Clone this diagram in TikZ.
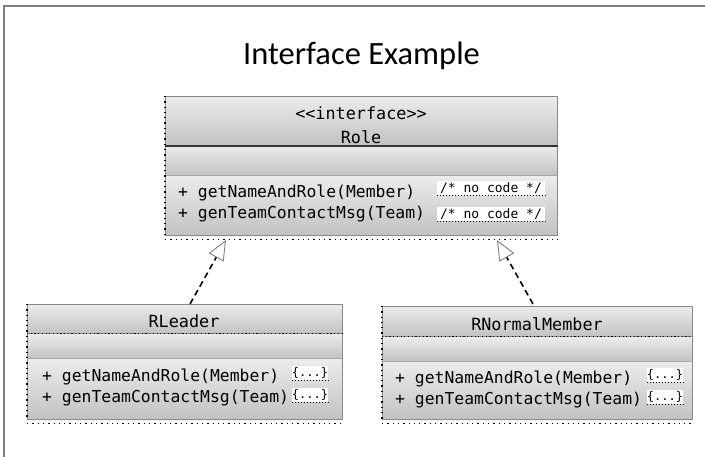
\documentclass[tikz,border=0pt]{standalone}
\usepackage{fontspec}
\setmainfont{Carlito}
\setmonofont{DejaVu Sans Mono}
\usetikzlibrary{arrows.meta,calc}
\definecolor{framegray}{HTML}{7F7F7F}
\definecolor{boxedge}{HTML}{8A8A8A}
\definecolor{topfill}{HTML}{ECECEC}
\definecolor{botfill}{HTML}{C2C2C2}
\begin{document}
\begin{tikzpicture}[x=1pt,y=-1pt,
  compart/.style={draw=boxedge, line width=0.8pt, top color=topfill, bottom color=botfill,
    inner sep=0pt, anchor=north west},
  mono/.style={font=\fontsize{16.4}{19}\selectfont\ttfamily, inner sep=0pt, anchor=west},
  headtext/.style={font=\fontsize{16.8}{19}\selectfont\ttfamily, inner sep=0pt},
  codebox/.style={fill=white, font=\fontsize{13}{15}\selectfont\ttfamily, inner sep=0pt,
    minimum height=14pt},
  smallcode/.style={codebox, font=\fontsize{12}{14}\selectfont\ttfamily},
  dotline/.style={line width=1.3pt, dash pattern=on 1.3pt off 4pt, black},
  codeline/.style={line width=1pt, dash pattern=on 1pt off 2pt, black},
  solidsep/.style={line width=1.8pt, draw=black!80},
  graysep/.style={line width=1.4pt, draw=gray!70},
  realize/.style={line width=1.6pt, black, dash pattern=on 6pt off 4pt,
    -{Triangle[open, length=20pt, width=17pt, line width=0.9pt, color=gray]}}
]
\useasboundingbox (0,0) rectangle (705,457);
% frame
\draw[framegray, line width=2pt] (4,457) -- (4,6) -- (705,6);
% title
\node[font=\fontsize{32.5}{38}\selectfont, anchor=base, inner sep=0pt] (title) at (361.5,65) {Interface Example};

% ---------- Role ----------
\node[compart, minimum width=392pt, minimum height=49pt] (rolehead) at (165,96) {};
\node[compart, minimum width=392pt, minimum height=30pt] (roleattr) at (165,145) {};
\node[compart, minimum width=392pt, minimum height=60pt] (rolemeth) at (165,175) {};
\draw[solidsep] (rolehead.south west) -- (rolehead.south east);
\draw[graysep] (roleattr.south west) -- (roleattr.south east);
\draw[dotline] (rolehead.north west) -- (rolemeth.south west);
\draw[dotline] ($(rolemeth.south west)+(0,4)$) -- ($(rolemeth.south east)+(0,4)$);
\node[headtext] (rolestereo) at (361,113) {<<interface>>};
\node[headtext] (rolename) at (361,137) {Role};
\node[mono] (rolem1) at (178,193) {+ getNameAndRole(Member)};
\node[mono] (rolem2) at (178,214) {+ genTeamContactMsg(Team)};
\node[codebox, minimum width=108pt] (rolec1) at (491,188) {/* no code */};
\node[codebox, minimum width=108pt] (rolec2) at (491,214) {/* no code */};
\draw[codeline] (rolec1.south west) -- (rolec1.south east);
\draw[codeline] (rolec2.south west) -- (rolec2.south east);

% ---------- RLeader ----------
\node[compart, minimum width=315pt, minimum height=29pt] (rlhead) at (27,304) {};
\node[compart, minimum width=315pt, minimum height=25pt] (rlattr) at (27,333) {};
\node[compart, minimum width=315pt, minimum height=61pt] (rlmeth) at (27,358) {};
\draw[dotline, line width=1.2pt, dash pattern=on 1.2pt off 2.5pt] (rlhead.south west) -- (rlhead.south east);
\draw[graysep] (rlattr.south west) -- (rlattr.south east);
\draw[dotline] (rlhead.north west) -- (rlmeth.south west);
\draw[dotline] ($(rlmeth.south west)+(0,4)$) -- ($(rlmeth.south east)+(0,4)$);
\node[headtext] (rlname) at (184,321) {RLeader};
\node[mono] (rlm1) at (42,377) {+ getNameAndRole(Member)};
\node[mono] (rlm2) at (42,398) {+ genTeamContactMsg(Team)};
\node[smallcode, minimum width=32pt] (rlc1) at (310,373) {\{...\}};
\node[smallcode, minimum width=32pt] (rlc2) at (310,395) {\{...\}};
\draw[codeline] (rlc1.south west) -- (rlc1.south east);
\draw[codeline] (rlc2.south west) -- (rlc2.south east);

% ---------- RNormalMember ----------
\node[compart, minimum width=310pt, minimum height=30pt] (rnhead) at (382,306) {};
\node[compart, minimum width=310pt, minimum height=25pt] (rnattr) at (382,336) {};
\node[compart, minimum width=310pt, minimum height=58pt] (rnmeth) at (382,361) {};
\draw[dotline, line width=1.2pt, dash pattern=on 1.2pt off 2.5pt] (rnhead.south west) -- (rnhead.south east);
\draw[graysep] (rnattr.south west) -- (rnattr.south east);
\draw[dotline] (rnhead.north west) -- (rnmeth.south west);
\draw[dotline] ($(rnmeth.south west)+(0,4)$) -- ($(rnmeth.south east)+(0,4)$);
\node[headtext] (rnname) at (537,324) {RNormalMember};
\node[mono] (rnm1) at (395,379) {+ getNameAndRole(Member)};
\node[mono] (rnm2) at (395,400) {+ genTeamContactMsg(Team)};
\node[smallcode, minimum width=34pt] (rnc1) at (665,375) {\{...\}};
\node[smallcode, minimum width=34pt] (rnc2) at (665,397) {\{...\}};
\draw[codeline] (rnc1.south west) -- (rnc1.south east);
\draw[codeline] (rnc2.south west) -- (rnc2.south east);

% ---------- realizations ----------
\coordinate (tipL) at (226,240);
\coordinate (tipR) at (497,240);
\coordinate (startL) at ($(rlhead.north west)+(163,0)$);
\coordinate (startR) at ($(rnhead.north west)+(151,-2)$);
\draw[realize] (startL) -- (tipL);
\draw[realize] (startR) -- (tipR);
\end{tikzpicture}
\end{document}
